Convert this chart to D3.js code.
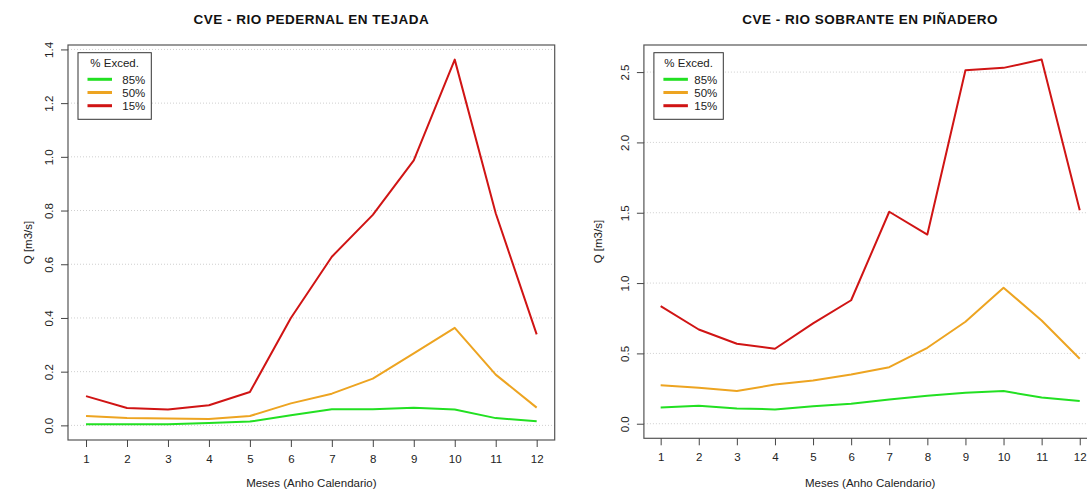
<!DOCTYPE html>
<html>
<head>
<meta charset="utf-8">
<script src="https://cdn.jsdelivr.net/npm/d3@7"></script>
<style>
  html, body { margin: 0; padding: 0; background: #fff; }
  svg { display: block; font-family: "Liberation Sans", Arial, sans-serif; }
</style>
</head>
<body>
<svg id="chart" width="1087" height="490"></svg>
<script>
// ---- data ----
const months = [1, 2, 3, 4, 5, 6, 7, 8, 9, 10, 11, 12];
const seriesNames = ["85%", "50%", "15%"];
const seriesColors = ["#22e022", "#eda421", "#d01414"];

const titleLeft = "CVE - RIO PEDERNAL EN TEJADA";
const left85 = [0.004, 0.004, 0.004, 0.009, 0.014, 0.038, 0.060, 0.060, 0.066, 0.059, 0.027, 0.015];
const left50 = [0.035, 0.027, 0.026, 0.024, 0.035, 0.082, 0.118, 0.174, 0.268, 0.363, 0.189, 0.066];
const left15 = [0.109, 0.065, 0.059, 0.075, 0.124, 0.400, 0.628, 0.784, 0.987, 1.362, 0.790, 0.339];
const leftYTicks = [0, 0.2, 0.4, 0.6, 0.8, 1.0, 1.2, 1.4];

const titleRight = "CVE - RIO SOBRANTE EN PIÑADERO";
const right85 = [0.116, 0.128, 0.109, 0.102, 0.125, 0.142, 0.173, 0.199, 0.220, 0.232, 0.187, 0.161];
const right50 = [0.274, 0.256, 0.232, 0.279, 0.308, 0.350, 0.402, 0.540, 0.725, 0.967, 0.734, 0.462];
const right15 = [0.836, 0.670, 0.569, 0.533, 0.713, 0.878, 1.507, 1.345, 2.513, 2.530, 2.589, 1.518];
const rightYTicks = [0, 0.5, 1.0, 1.5, 2.0, 2.5];

const xLabel = "Meses (Anho Calendario)";
const yLabel = "Q [m3/s]";
const legendTitle = "% Exced.";

const svg = d3.select("#chart");

function panel(opts) {
  const { x0, x1, y0, y1, title, series, yTicks, legendW, yLabOff } = opts;
  const g = svg.append("g");
  const allVals = series.flat();
  const yMax = d3.max(allVals), yMin = 0;
  const pad = (yMax - yMin) * 0.04;
  const x = d3.scaleLinear().domain([1 - 0.44, 12 + 0.44]).range([x0, x1]);
  const y = d3.scaleLinear().domain([yMin - pad, yMax + pad]).range([y1, y0]);

  // grid
  g.append("g").selectAll("line").data(yTicks).join("line")
    .attr("x1", x0).attr("x2", x1)
    .attr("y1", d => y(d)).attr("y2", d => y(d))
    .attr("stroke", "#cfcfcf").attr("stroke-width", 1)
    .attr("stroke-dasharray", "1,2");

  // series lines
  const line = d3.line().x((d, i) => x(months[i])).y(d => y(d));
  series.forEach((s, k) => {
    g.append("path").datum(s).attr("d", line)
      .attr("fill", "none").attr("stroke", seriesColors[k])
      .attr("stroke-width", 2).attr("stroke-linejoin", "round");
  });

  // box
  g.append("rect").attr("x", x0).attr("y", y0)
    .attr("width", x1 - x0).attr("height", y1 - y0)
    .attr("fill", "none").attr("stroke", "#555").attr("stroke-width", 1.2);

  // x axis
  const xa = d3.axisBottom(x).tickValues(months).tickSize(7).tickPadding(8).tickFormat(d3.format("d"));
  const gx = g.append("g").attr("transform", `translate(0,${y1})`).call(xa);
  gx.select(".domain").remove();
  gx.selectAll(".tick line").attr("stroke", "#444");
  gx.selectAll(".tick text").attr("font-size", "11.5px").attr("fill", "#222")
    .attr("font-family", "Liberation Sans, Arial, sans-serif");

  // y axis
  const ya = d3.axisLeft(y).tickValues(yTicks).tickSize(7).tickFormat(d3.format(".1f"));
  const gy = g.append("g").attr("transform", `translate(${x0},0)`).call(ya);
  gy.select(".domain").remove();
  gy.selectAll(".tick line").attr("stroke", "#444");
  gy.selectAll(".tick text")
    .attr("font-size", "11.5px").attr("fill", "#222")
    .attr("font-family", "Liberation Sans, Arial, sans-serif")
    .attr("x", null).attr("dy", null)
    .attr("text-anchor", "middle")
    .attr("transform", "translate(-19,0) rotate(-90)")
    .attr("dy", "0.35em");

  // titles
  const cx = (x0 + x1) / 2;
  g.append("text").attr("x", cx).attr("y", 24).attr("text-anchor", "middle")
    .attr("font-weight", "bold").attr("font-size", "13.5px").attr("letter-spacing", "0.5px")
    .attr("fill", "#111").text(title);
  g.append("text").attr("x", cx).attr("y", 487).attr("text-anchor", "middle")
    .attr("font-size", "11.5px").attr("fill", "#222").text(xLabel);
  g.append("text").attr("transform", `translate(${x0 - yLabOff},${(y0 + y1) / 2}) rotate(-90)`)
    .attr("text-anchor", "middle").attr("dy", "0.35em")
    .attr("font-size", "11.5px").attr("fill", "#222").text(yLabel);

  // legend
  const lx = x0 + 10, ly = 52.7, lh = 66.6;
  const lg = g.append("g");
  lg.append("rect").attr("x", lx).attr("y", ly).attr("width", legendW).attr("height", lh)
    .attr("fill", "#fff").attr("stroke", "#333").attr("stroke-width", 1);
  lg.append("text").attr("x", lx + legendW / 2).attr("y", ly + 14)
    .attr("text-anchor", "middle").attr("font-size", "11.5px").attr("fill", "#222").text(legendTitle);
  seriesNames.forEach((nm, k) => {
    const yy = ly + 26.6 + k * 13.2;
    lg.append("line").attr("x1", lx + 9.5).attr("x2", lx + 34)
      .attr("y1", yy).attr("y2", yy)
      .attr("stroke", seriesColors[k]).attr("stroke-width", 3);
    lg.append("text").attr("x", lx + legendW - 6).attr("y", yy).attr("dy", "0.38em")
      .attr("text-anchor", "end").attr("font-size", "11.5px").attr("fill", "#222").text(nm);
  });
}

panel({ x0: 68, x1: 554.7, y0: 45, y1: 440, title: titleLeft,
        series: [left85, left50, left15], yTicks: leftYTicks, legendW: 73.3, yLabOff: 40 });
panel({ x0: 643.9, x1: 1096.5, y0: 45, y1: 438.3, title: titleRight,
        series: [right85, right50, right15], yTicks: rightYTicks, legendW: 69.4, yLabOff: 46 });
</script>
</body>
</html>
